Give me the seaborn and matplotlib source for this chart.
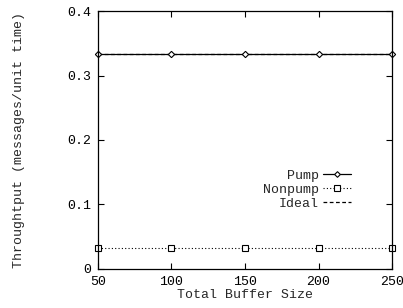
import matplotlib
matplotlib.use("Agg")
import matplotlib.pyplot as plt
import seaborn as sns
import pandas as pd

buffer_sizes = [50, 100, 150, 200, 250]
pump = [0.333, 0.333, 0.333, 0.333, 0.333]
nonpump = [0.033, 0.033, 0.033, 0.033, 0.033]
ideal = [0.333, 0.333, 0.333, 0.333, 0.333]
x_ticks = [50, 100, 150, 200, 250]
y_ticks = [0, 0.1, 0.2, 0.3, 0.4]
y_tick_labels = ["0", "0.1", "0.2", "0.3", "0.4"]

sns.set_style("ticks")
plt.rcParams['font.family'] = ['Liberation Mono', 'DejaVu Sans Mono']
plt.rcParams['font.size'] = 9.5

df = pd.DataFrame({
    "size": buffer_sizes * 3,
    "value": ideal + pump + nonpump,
    "series": ["Ideal"] * 5 + ["Pump"] * 5 + ["Nonpump"] * 5,
})

fig = plt.figure(figsize=(4.03, 3.08), dpi=100)
ax = fig.add_axes([0.243, 0.127, 0.730, 0.837])

styles = {
    "Pump": dict(ls="-", marker="D", ms=3.2, lw=0.9),
    "Nonpump": dict(ls=(0, (1, 2)), marker="s", ms=4.3, lw=0.8),
    "Ideal": dict(ls=(0, (3, 2)), marker=None, ms=0, lw=0.9),
}
lines = {}
for name in ["Ideal", "Pump", "Nonpump"]:
    sub = df[df.series == name]
    st = styles[name]
    sns.lineplot(data=sub, x="size", y="value", ax=ax, color="black",
                 linestyle=st["ls"], lw=st["lw"], marker=st["marker"],
                 markersize=st["ms"], markerfacecolor="white",
                 markeredgecolor="black", markeredgewidth=0.8,
                 label=name, legend=False, clip_on=False)
    lines[name] = ax.get_lines()[-1]

ax.set_xlim(50, 250)
ax.set_ylim(0, 0.4)
ax.set_xticks(x_ticks)
ax.set_yticks(y_ticks)
ax.set_yticklabels(y_tick_labels)
ax.tick_params(direction="in", length=4, width=0.8, top=True, right=True,
               colors="black", labelsize=9.5, pad=5)
for s in ax.spines.values():
    s.set_visible(True)
    s.set_color("black")
    s.set_linewidth(0.9)

ax.set_xlabel("Total Buffer Size", fontsize=9.5, labelpad=1)
ax.set_ylabel("Throughtput (messages/unit time)", fontsize=9.5, labelpad=30)

leg = ax.legend([lines["Pump"], lines["Nonpump"], lines["Ideal"]],
                ["Pump", "Nonpump", "Ideal"],
                loc="upper left", bbox_to_anchor=(0.56, 0.385),
                frameon=False, markerfirst=False, handlelength=2.1,
                handletextpad=0.35, labelspacing=0.12, fontsize=9.5,
                borderpad=0, borderaxespad=0, markerscale=0.9)
try:
    leg._legend_box._children[-1]._children[0].align = "right"
except Exception:
    pass

fig.savefig("out.png", dpi=100)
